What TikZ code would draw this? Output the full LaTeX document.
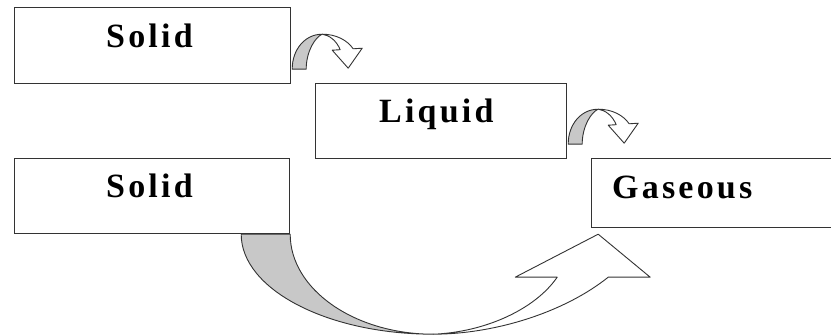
\documentclass[tikz,border=0pt]{standalone}
\usepackage{fontspec}
\setmainfont{Liberation Serif}
\definecolor{linec}{HTML}{333333}
\definecolor{shade}{HTML}{C8C8C8}
\newcommand\mygap{\kern3.2pt\relax}
\tikzset{
  statebox/.style={draw=linec, line width=1.2pt, rectangle, inner sep=0pt, fill=white},
  statetext/.style={anchor=base west, inner sep=0pt, text=black,
    font=\fontsize{34}{40}\selectfont\bfseries},
  ribbon/.style={draw=linec, line width=0.9pt, line join=round},
}
\newcommand\smallarrowshape{%
  \path[ribbon, fill=shade] (1,-15) .. controls (1,-35) and (14,-50) .. (31,-50)
     .. controls (24,-47) and (15,-33) .. (15,-15) -- cycle;
  \path[ribbon, fill=white] (31,-50) .. controls (45,-50) and (56,-44) .. (62,-35.4)
     -- (71,-36) -- (57,-16) -- (41,-34) -- (49,-34.5)
     .. controls (45,-44) and (38,-49) .. (31,-50) -- cycle;
}
\begin{document}
\begin{tikzpicture}[x=1pt, y=-1pt]
\useasboundingbox (0,0) rectangle (831,336);
\clip (0,0) rectangle (831,336);
\fill[white] (0,0) rectangle (831,336);
% boxes
\node[statebox, minimum width=276pt, minimum height=76pt, anchor=north west] (b1) at (14,7) {};
\node[statebox, minimum width=251pt, minimum height=75pt, anchor=north west] (b2) at (315,83) {};
\node[statebox, minimum width=275pt, minimum height=75pt, anchor=north west] (b3) at (14,158) {};
\node[statebox, minimum width=260pt, minimum height=69pt, anchor=north west] (b4) at (591,158) {};
% labels
\node[statetext] (t1) at (106,48) {S\mygap o\mygap l\mygap i\mygap d};
\node[statetext] (t2) at (379,123) {L\mygap i\mygap q\mygap u\mygap i\mygap d};
\node[statetext] (t3) at (106,198) {S\mygap o\mygap l\mygap i\mygap d};
\node[statetext] (t4) at (612,199) {G\mygap a\mygap s\mygap e\mygap o\mygap u\mygap s};
% small curved arrows
\begin{scope}[shift={(b1.south east)}]
  \smallarrowshape
\end{scope}
\begin{scope}[shift={(b2.south east)}]
  \smallarrowshape
\end{scope}
% big curved arrow
\begin{scope}[shift={(b3.south east)}]
  \path[ribbon, fill=shade] (-49,0) .. controls (-49,55) and (37,100) .. (143,100)
     .. controls (64,100) and (0,55) .. (0,0) -- cycle;
  \path[ribbon, fill=white] (143,100) .. controls (203,100) and (273,79) .. (318,43)
     -- (360,43) -- (308,0) -- (225,43) -- (267,43)
     .. controls (245,75) and (195,98) .. (143,100) -- cycle;
\end{scope}
\end{tikzpicture}
\end{document}
